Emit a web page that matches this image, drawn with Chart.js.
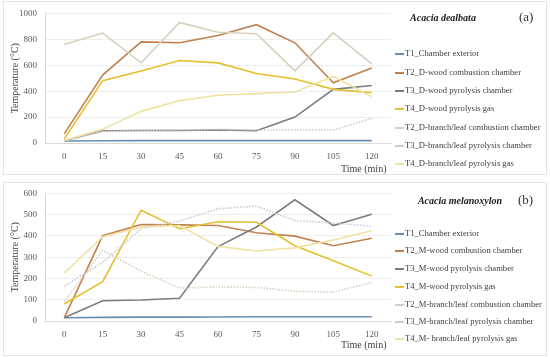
<!DOCTYPE html>
<html>
<head>
<meta charset="utf-8">
<script src="https://cdn.jsdelivr.net/npm/chart.js@4.4.0/dist/chart.umd.min.js"></script>
<style>
  body { margin: 0; background: #fff; font-family: 'Liberation Serif', 'Times New Roman', serif; color: #404040; }
  .painel { position: absolute; left: 3px; width: 544px; height: 174px; border: 1px solid #e4e4e4; box-sizing: border-box; }
  canvas { position: absolute; left: 0; }
  .txt { position: absolute; white-space: nowrap; line-height: 12px; }
  .titulo { font-weight: bold; font-style: italic; font-size: 10px; color: #1a1a1a; text-align: center; }
  .letra { font-size: 13px; color: #333; }
  .eixo { font-size: 10px; color: #404040; }
  .item { position: absolute; left: 395px; font-size: 8.6px; line-height: 10px; white-space: nowrap; color: #404040; }
  .item span { display: inline-block; width: 9px; height: 1.5px; vertical-align: middle; margin-right: 1px; }
</style>
</head>
<body>
<div class="painel" style="top:1px"></div>
<div class="painel" style="top:182px"></div>
<canvas id="graficoA" width="395" height="178" style="top:0"></canvas>
<canvas id="graficoB" width="395" height="177" style="top:180px"></canvas>

<script>
// Time axis (min)
const tempos = ['0', '15', '30', '45', '60', '75', '90', '105', '120'];

// (a) Acacia dealbata
const rotulosA = [
    'T1_Chamber exterior',
    'T2_D-wood combustion chamber',
    'T3_D-wood pyrolysis chamber',
    'T4_D-wood pyrolysis gas',
    'T2_D-branch/leaf combustion chamber',
    'T3_D-branch/leaf pyrolysis chamber',
    'T4_D-branch/leaf pyrolysis gas'
];
const a_t1 = [15, 17, 18, 18, 18, 18, 18, 18, 18];
const a_t2Madeira = [70, 524, 780, 773, 830, 913, 773, 465, 579];
const a_t3Madeira = [20, 95, 96, 97, 100, 95, 200, 414, 444];
const a_t4Madeira = [32, 481, 556, 636, 618, 536, 494, 414, 389];
const a_t2Ramo = [760, 848, 619, 930, 855, 843, 556, 850, 611];
const a_t3Ramo = [15, 90, 98, 100, 105, 100, 100, 100, 190];
const a_t4Ramo = [20, 107, 244, 327, 369, 381, 394, 514, 357];

// (b) Acacia melanoxylon
const rotulosB = [
    'T1_Chamber exterior',
    'T2_M-wood combustion chamber',
    'T3_M-wood pyrolysis chamber',
    'T4_M-wood pyrolysis gas',
    'T2_M-branch/leaf combustion chamber',
    'T3_M-branch/leaf pyrolysis chamber',
    'T4_M- branch/leaf pyrolysis gas'
];
const b_t1 = [15, 17, 18, 18, 19, 20, 20, 20, 20];
const b_t2Madeira = [15, 401, 454, 452, 449, 415, 399, 354, 389];
const b_t3Madeira = [15, 95, 99, 107, 350, 442, 570, 449, 502];
const b_t4Madeira = [80, 185, 521, 434, 467, 464, 354, 283, 211];
const b_t2Ramo = [90, 332, 235, 155, 160, 158, 140, 136, 181];
const b_t3Ramo = [163, 276, 434, 470, 528, 540, 472, 461, 446];
const b_t4Ramo = [225, 396, 442, 449, 351, 329, 344, 381, 424];

// Series colours (same order as the legends)
const cores = ['#6b8cae', '#c0814e', '#7d7d7d', '#e5bf2f', '#d9cfbf', '#c9cbd1', '#efe3a3'];
const pontilhado = [false, false, false, false, false, true, false];

const fonteEixo = { family: "'Liberation Serif', 'Times New Roman', serif", size: 9 };

function montarSeries(rotulos, valores, pontilhadoExtra) {
    return valores.map((dados, i) => ({
        label: rotulos[i],
        data: dados,
        borderColor: cores[i],
        backgroundColor: cores[i],
        borderWidth: 1.6,
        borderDash: (pontilhado[i] || pontilhadoExtra.includes(i)) ? [1.5, 1.5] : [],
        pointRadius: 0,
        tension: 0,
        fill: false
    })).reverse();
}

function criarGrafico(canvasId, series, maximo, topo, alturaX) {
    const ctx = document.getElementById(canvasId).getContext('2d');
    return new Chart(ctx, {
        type: 'line',
        data: { labels: tempos, datasets: series },
        options: {
            responsive: false,
            animation: false,
            devicePixelRatio: 1,
            layout: { padding: { left: 0, top: topo, right: 4, bottom: 2 } },
            plugins: { legend: { display: false }, tooltip: { enabled: false } },
            scales: {
                x: {
                    offset: true,
                    grid: { display: false },
                    border: { display: true, color: '#d9d9d9' },
                    ticks: { font: fonteEixo, color: '#595959', padding: 0, maxRotation: 0, autoSkip: false },
                    afterFit: s => { s.height = alturaX; }
                },
                y: {
                    min: 0,
                    max: maximo,
                    ticks: {
                        stepSize: 100, font: fonteEixo, color: '#595959', padding: 8,
                        callback: v => String(v)
                    },
                    grid: { color: '#ededed', drawTicks: false },
                    border: { display: true, color: '#d9d9d9' },
                    title: {
                        display: true,
                        text: 'Temperature (°C)',
                        font: { family: "'Liberation Serif', 'Times New Roman', serif", size: 10 },
                        color: '#404040',
                        padding: { top: 9, bottom: 0 }
                    },
                    afterFit: s => { s.width = 45; }
                }
            }
        }
    });
}

// HTML legend / titles
function escreverTexto(html, classe, left, top, extra) {
    const d = document.createElement('div');
    d.className = 'txt ' + classe;
    d.style.left = left + 'px';
    d.style.top = top + 'px';
    if (extra) Object.assign(d.style, extra);
    d.innerHTML = html;
    document.body.appendChild(d);
}

function escreverLegenda(rotulos, posicoes) {
    rotulos.forEach((r, i) => {
        const d = document.createElement('div');
        d.className = 'item';
        d.style.top = (posicoes[i] - 5) + 'px';
        d.innerHTML = '<span style="background:' + cores[i] + '"></span>' + r;
        document.body.appendChild(d);
    });
}

criarGrafico('graficoA',
    montarSeries(rotulosA, [a_t1, a_t2Madeira, a_t3Madeira, a_t4Madeira, a_t2Ramo, a_t3Ramo, a_t4Ramo], []),
    1000, 9, 33);
criarGrafico('graficoB',
    montarSeries(rotulosB, [b_t1, b_t2Madeira, b_t3Madeira, b_t4Madeira, b_t2Ramo, b_t3Ramo, b_t4Ramo], [4]),
    600, 8, 34);

escreverTexto('Acacia dealbata', 'titulo', 393, 12, { width: '100px' });
escreverTexto('(a)', 'letra', 519, 11);
escreverTexto('Time (min)', 'eixo', 341, 163);
escreverLegenda(rotulosA, [53, 72, 90, 108, 127, 145, 163]);

escreverTexto('Acacia melanoxylon', 'titulo', 410, 195, { width: '100px' });
escreverTexto('(b)', 'letra', 518, 194);
escreverTexto('Time (min)', 'eixo', 341, 339);
escreverLegenda(rotulosB, [233, 250, 268, 286, 304, 321, 338]);
</script>
</body>
</html>
